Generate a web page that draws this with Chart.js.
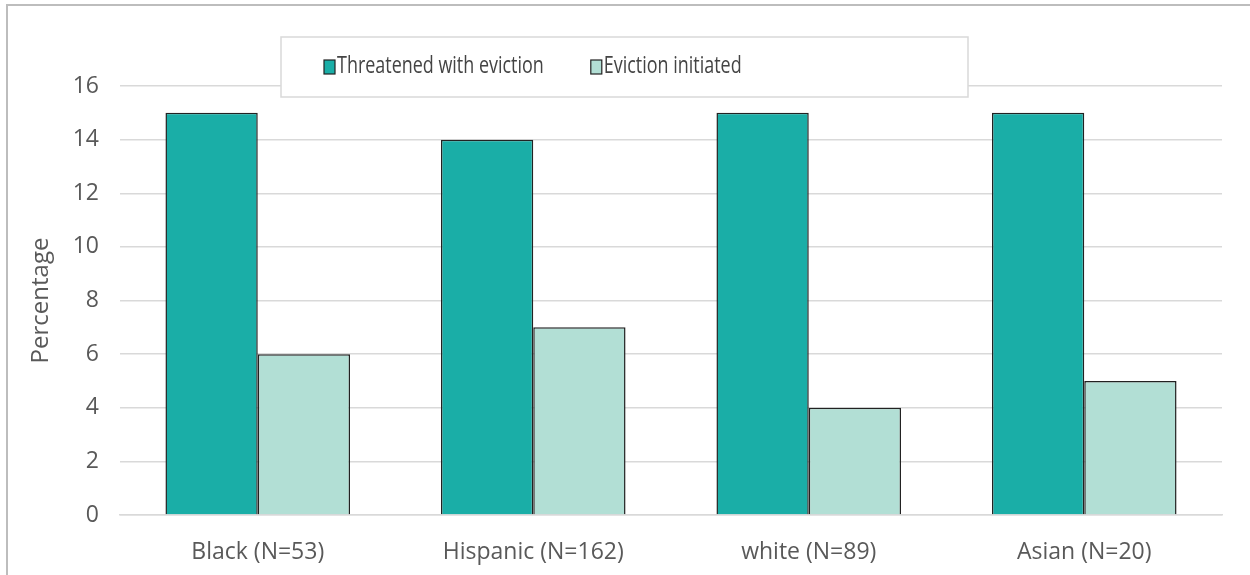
<!DOCTYPE html>
<html>
<head>
<meta charset="utf-8">
<script src="https://cdn.jsdelivr.net/npm/chart.js@4/dist/chart.umd.min.js"></script>
<style>
  html, body { margin: 0; padding: 0; background: #fff; }
  #wrap { position: relative; width: 1250px; height: 575px; }
  canvas { display: block; }
</style>
</head>
<body>
<div id="wrap"><canvas id="c" width="1250" height="575"></canvas></div>
<script>
const categories = ["Black (N=53)", "Hispanic (N=162)", "white (N=89)", "Asian (N=20)"];
const threatened = [15, 14, 15, 15];
const initiated = [6, 7, 4, 5];
const seriesNames = ["Threatened with eviction", "Eviction initiated"];
const yTicks = { min: 0, max: 16, step: 2 };

const FONT = "'Open Sans', 'Noto Sans', sans-serif";
const TEXT = "#595959";

const framePlugin = {
  id: "frame",
  beforeDraw(chart) {
    const ctx = chart.ctx;
    ctx.save();
    ctx.fillStyle = "#fff";
    ctx.fillRect(0, 0, chart.width, chart.height);
    ctx.strokeStyle = "#bdbdbd";
    ctx.lineWidth = 2;
    ctx.beginPath();
    ctx.moveTo(7, chart.height);
    ctx.lineTo(7, 5);
    ctx.lineTo(chart.width, 5);
    ctx.stroke();
    ctx.restore();
  }
};

const legendPlugin = {
  id: "boxLegend",
  afterDatasetsDraw(chart) {
    const ctx = chart.ctx;
    ctx.save();
    const bx = 281, by = 37, bw = 687, bh = 60;
    ctx.fillStyle = "#fff";
    ctx.fillRect(bx, by, bw, bh);
    ctx.strokeStyle = "#d9d9d9";
    ctx.lineWidth = 1.5;
    ctx.strokeRect(bx, by, bw, bh);
    ctx.font = "23px " + FONT;
    ctx.textBaseline = "middle";
    ctx.textAlign = "left";
    const squeeze = 0.78;
    let x = 324;
    const cy = 66;
    chart.data.datasets.forEach((ds, i) => {
      ctx.fillStyle = ds.backgroundColor;
      ctx.fillRect(x, cy - 6, 11, 14);
      ctx.strokeStyle = "#222";
      ctx.lineWidth = 1.2;
      ctx.strokeRect(x, cy - 6, 11, 14);
      ctx.fillStyle = "#444";
      const w = ctx.measureText(ds.label).width * squeeze;
      ctx.fillText(ds.label, x + 13, cy, w);
      x += 13 + w + 47;
    });
    ctx.restore();
  }
};

new Chart(document.getElementById("c"), {
  type: "bar",
  data: {
    labels: categories,
    datasets: [
      { label: seriesNames[0], data: threatened, backgroundColor: "#1AAEA7", borderColor: "#222", borderWidth: 1.5 },
      { label: seriesNames[1], data: initiated, backgroundColor: "#B2DFD5", borderColor: "#222", borderWidth: 1.5 }
    ]
  },
  options: {
    responsive: false,
    animation: false,
    devicePixelRatio: 1,
    layout: { padding: { left: 0, right: 28, top: 86, bottom: 0 } },
    datasets: { bar: { barPercentage: 1, categoryPercentage: 0.67 } },
    plugins: { legend: { display: false }, tooltip: { enabled: false } },
    scales: {
      x: {
        grid: { display: false, drawTicks: false },
        border: { display: true, color: "#d9d9d9", width: 1.5 },
        ticks: { color: TEXT, font: { family: FONT, size: 23 }, padding: 24 },
        afterFit(s) { s.height = 60; }
      },
      y: {
        min: yTicks.min, max: yTicks.max,
        ticks: { stepSize: yTicks.step, color: TEXT, font: { family: FONT, size: 23 }, padding: 21 },
        grid: { color: "#d9d9d9", lineWidth: 1.5, drawTicks: false },
        border: { display: false },
        title: { display: true, text: "Percentage", color: TEXT, font: { family: FONT, size: 24 }, padding: { top: 27, bottom: 8 } },
        afterFit(s) { s.width = 120; }
      }
    }
  },
  plugins: [framePlugin, legendPlugin]
});
</script>
</body>
</html>
